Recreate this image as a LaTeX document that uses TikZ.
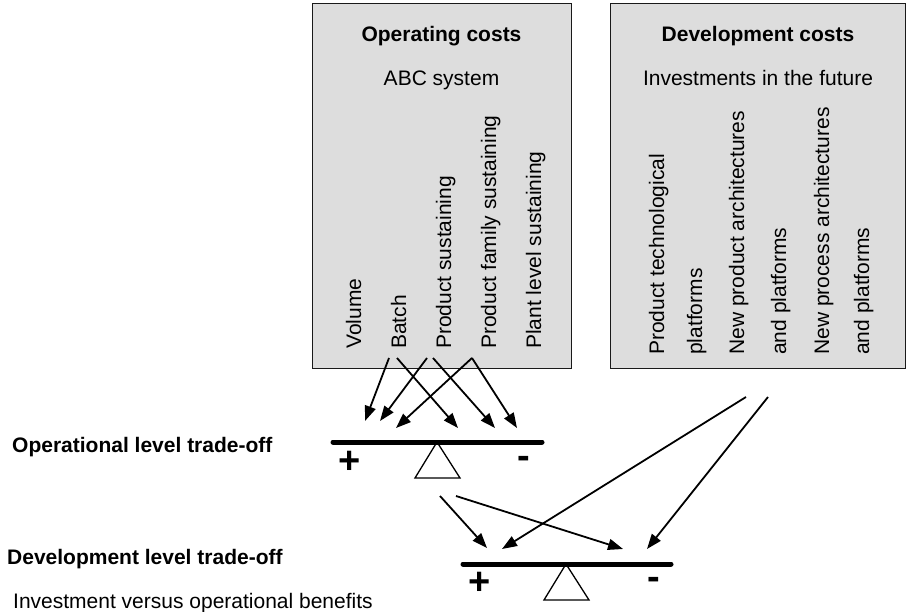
\documentclass[tikz,border=0pt]{standalone}
\usepackage{fontspec}
\setmainfont{Liberation Sans}
\usetikzlibrary{arrows.meta}
\definecolor{boxfill}{HTML}{DDDDDD}
\begin{document}
\begin{tikzpicture}[x=1pt,y=-1pt,
  font=\fontsize{21}{25}\selectfont,
  box/.style={draw=black!90, line width=1.4pt, fill=boxfill, inner sep=0pt, anchor=north west},
  title/.style={font=\fontsize{21}{25}\selectfont\bfseries, anchor=base, inner sep=0pt},
  sub/.style={anchor=base, inner sep=0pt},
  vlabel/.style={rotate=90, anchor=base west, inner sep=0pt},
  side/.style={anchor=base west, inner sep=0pt},
  sign/.style={font=\fontsize{38}{40}\selectfont\bfseries, inner sep=0pt},
  arr/.style={line width=1.8pt, -{Triangle[length=15pt,width=11pt]}},
  beam/.style={line width=5pt, line cap=round},
  fulcrum/.style={draw, line width=1.3pt, fill=white, line join=miter}
]
\useasboundingbox (0,0) rectangle (908,612);

% boxes
\node[box, minimum width=259pt, minimum height=365pt] (opbox) at (312,3) {};
\node[box, minimum width=295pt, minimum height=365pt] (devbox) at (610,3) {};

\node[title] (optitle) at (441.5,42) {Operating costs};
\node[sub] (opsub) at (441.5,86) {ABC system};
\node[title] (devtitle) at (758,42) {Development costs};
\node[sub] (devsub) at (758,86) {Investments in the future};

% operating cost categories
\node[vlabel] (vol) at (361,349) {Volume};
\node[vlabel] (bat) at (406,349) {Batch};
\node[vlabel] (ps) at (451,349) {Product sustaining};
\node[vlabel] (pfs) at (496,349) {Product family sustaining};
\node[vlabel] (pls) at (541,349) {Plant level sustaining};

% development cost categories
\node[vlabel] (d1) at (664,355) {Product technological};
\node[vlabel] (d2) at (702,355) {platforms};
\node[vlabel] (d3) at (744,355) {New product architectures};
\node[vlabel] (d4) at (786,355) {and platforms};
\node[vlabel] (d5) at (829,355) {New process architectures};
\node[vlabel] (d6) at (869,355) {and platforms};

% side labels
\node[side, font=\fontsize{21}{25}\selectfont\bfseries] (oplevel) at (12,452) {Operational level trade-off};
\node[side, font=\fontsize{21}{25}\selectfont\bfseries] (devlevel) at (7,564) {Development level trade-off};
\node[side] (invest) at (13,608) {Investment versus operational benefits};

% upper balance
\draw[fulcrum] (437,442) -- (415,478) -- (460,478) -- cycle;
\coordinate (b1l) at (333,442);
\coordinate (b1r) at (542,442);
\draw[beam] (b1l) -- (b1r);
\node[sign] (p1) at (350,462) {+};
\node[sign] (m1) at (524,462) {-};

% lower balance
\draw[fulcrum] (566,564) -- (544,600) -- (589,600) -- cycle;
\coordinate (b2l) at (463,564);
\coordinate (b2r) at (671,564);
\draw[beam] (b2l) -- (b2r);
\node[sign] (p2) at (480,583) {+};
\node[sign] (m2) at (654,583) {-};

% arrow start and end points
\coordinate (s1) at (389,358);
\coordinate (s2) at (397,358);
\coordinate (s3) at (427,358);
\coordinate (s4) at (433,358);
\coordinate (s5) at (472,358);
\coordinate (t1) at (365,421);
\coordinate (t2) at (380,421);
\coordinate (t3) at (396,428);
\coordinate (t4) at (458,428);
\coordinate (t5) at (495,428);
\coordinate (t6) at (517,428);

\draw[arr] (s1) -- (t1);
\draw[arr] (s2) -- (t4);
\draw[arr] (s3) -- (t2);
\draw[arr] (s4) -- (t5);
\draw[arr] (s5) -- (t3);
\draw[arr] (s5) -- (t6);

\coordinate (u1) at (440,496);
\coordinate (u2) at (456,496);
\coordinate (u3) at (746,397);
\coordinate (u4) at (768,397);
\coordinate (v1) at (487,548);
\coordinate (v2) at (623,549);
\coordinate (v3) at (502,549);
\coordinate (v4) at (647,549);

\draw[arr] (u1) -- (v1);
\draw[arr] (u2) -- (v2);
\draw[arr] (u3) -- (v3);
\draw[arr] (u4) -- (v4);
\end{tikzpicture}
\end{document}
